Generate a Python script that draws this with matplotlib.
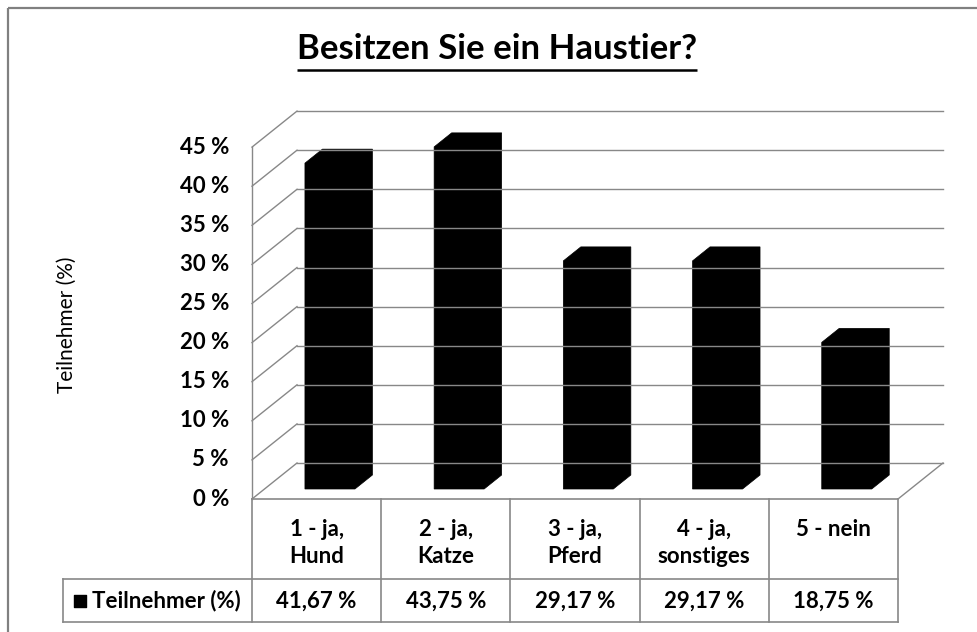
import matplotlib
matplotlib.use('Agg')
from matplotlib import pyplot as plt
from matplotlib.patches import Polygon
import numpy as np

# Data
categories = ['1 - ja,\nHund', '2 - ja,\nKatze', '3 - ja,\nPferd', '4 - ja,\nsonstiges', '5 - nein']
values = [41.67, 43.75, 29.17, 29.17, 18.75]
value_labels = ['41,67 %', '43,75 %', '29,17 %', '29,17 %', '18,75 %']
yticks = [0, 5, 10, 15, 20, 25, 30, 35, 40, 45]
series_name = 'Teilnehmer (%)'
title = 'Besitzen Sie ein Haustier?'

plt.rcParams['font.family'] = ['Lato', 'DejaVu Sans']

W, H = 977, 632
# pixel layout of the front plane (category 0 / 0 %)
X0, CW = 252.0, 129.2
Y0, PP = 499.0, 7.82
DX, DY = 45.0 / CW, 36.0 / PP      # depth offset of the back wall, in data units
D1, D2 = 10.0 / 36, 24.0 / 36      # bar depth (front, back) as fraction of wall depth
BL, BW = 0.313, 0.387              # bar left offset and width in categories
GRID = '#888888'

def px2x(p):
    return (p - X0) / CW

def px2y(p):
    return (Y0 - p) / PP

fig = plt.figure(figsize=(W / 100, H / 100), dpi=100)
ax = fig.add_axes([0, 0, 1, 1])
ax.set_xlim(px2x(0), px2x(W))
ax.set_ylim(px2y(H), px2y(0))
ax.axis('off')

n = len(categories)
top = yticks[-1]

# outer frame (top and left only)
ax.plot([px2x(8), px2x(W)], [px2y(8), px2y(8)], color='#808080', lw=1.6, solid_capstyle='butt')
ax.plot([px2x(8), px2x(8)], [px2y(8), px2y(H)], color='#808080', lw=1.6, solid_capstyle='butt')

# back wall gridlines and side wall diagonals
for v in yticks:
    ax.plot([DX, n + DX], [v + DY, v + DY], color=GRID, lw=1.0)
    ax.plot([0, DX], [v, v + DY], color=GRID, lw=1.0)
ax.plot([0, 0], [0, top], color=GRID, lw=1.0)
# floor
ax.plot([0, n], [0, 0], color=GRID, lw=1.2)
ax.plot([n, n + DX], [0, DY], color=GRID, lw=1.0)

# bars (box silhouette)
for i, v in enumerate(values):
    l = i + BL
    r = l + BW
    fx, fy = D1 * DX, D1 * DY
    bx, by = D2 * DX, D2 * DY
    pts = [(l + fx, fy), (l + fx, v + fy), (l + bx, v + by), (r + bx, v + by),
           (r + bx, by), (r + fx, fy)]
    ax.add_patch(Polygon(pts, closed=True, facecolor='black', edgecolor='black', lw=0.5))

# y tick labels
for v in yticks:
    ax.text(px2x(229), v, '%d %%' % v, ha='right', va='center',
            fontsize=16, fontweight='bold')

# y axis title
ax.text(px2x(67), px2y(325), series_name, rotation=90, ha='center', va='center', fontsize=15)

# data table
row1, row2 = px2y(579), px2y(622)
for k in range(n + 1):
    ax.plot([k, k], [0, row2], color=GRID, lw=1.2)
ax.plot([px2x(63), n], [row1, row1], color=GRID, lw=1.2)
ax.plot([px2x(63), n], [row2, row2], color=GRID, lw=1.2)
ax.plot([px2x(63), px2x(63)], [row1, row2], color=GRID, lw=1.2)

for i, c in enumerate(categories):
    ax.text(i + 0.5, px2y(519), c, ha='center', va='top', fontsize=16,
            fontweight='bold', linespacing=1.35)
    ax.text(i + 0.5, px2y(601), value_labels[i], ha='center', va='center',
            fontsize=16, fontweight='bold')

ax.scatter([px2x(79.5)], [px2y(601)], marker='s', s=80, color='black')
ax.text(px2x(92), px2y(601), series_name, ha='left', va='center',
        fontsize=16, fontweight='bold')

# title with underline
t = ax.text(px2x(497), px2y(49), title, ha='center', va='center',
            fontsize=25, fontweight='bold')
fig.canvas.draw()
bb = t.get_window_extent().transformed(ax.transData.inverted())
uy = px2y(70)
ax.plot([bb.x0, bb.x1], [uy, uy], color='black', lw=1.8, solid_capstyle='butt')

fig.savefig('out.png', dpi=100)
